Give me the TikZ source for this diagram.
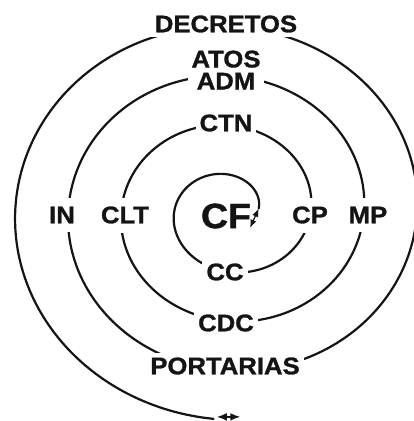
\documentclass[tikz,border=0pt]{standalone}
\usepackage{fontspec}
\usetikzlibrary{arrows.meta}
\newfontfamily\spirfont[FakeStretch=1.07,FakeBold=1.2]{Liberation Sans}
\definecolor{ink}{RGB}{20,20,20}

\begin{document}
\begin{tikzpicture}[x=1pt, y=-1pt, >=Latex]

% =====================================================================
% Spiral of the legal norms, drawn in pixel units (y pointing down).
% Centre near (229.4, 211); the two radii grow linearly with the angle:
%   x radius = 28.6 + 0.1473*t,   y radius = 24 + 0.137*t   (t in deg)
% The text nodes are filled white, so they cut the line where it passes.
% =====================================================================

\def\cx{229.4}
\def\cy{211}
\def\ax{28.6}
\def\bx{0.1473}
\def\ay{24}
\def\by{0.137}
\def\tStart{6}
\def\tEnd{1346}

\tikzset{
  spirline/.style={ink, line width=2.2pt, line cap=round},
  spirtext/.style={fill=white, inner xsep=4pt, inner ysep=9pt,
    text=ink, font=\spirfont\bfseries\fontsize{24}{22}\selectfont},
  spirarrow/.style={<->, ink, line width=1.2pt}
}

\clip (0,0) rectangle (414,421);

% Spiral (one continuous line, from the centre outwards)
\draw[spirline] plot[domain=\tStart:\tEnd, samples=400, smooth]
  ({\cx + (\ax + \bx*\x)*cos(\x)}, {\cy - (\ay + \by*\x)*sin(\x)});

% Both ends of the spiral
\pgfmathsetmacro{\ixs}{\cx + (\ax + \bx*\tStart)*cos(\tStart)}
\pgfmathsetmacro{\iys}{\cy - (\ay + \by*\tStart)*sin(\tStart)}
\pgfmathsetmacro{\oxs}{\cx + (\ax + \bx*\tEnd)*cos(\tEnd)}
\pgfmathsetmacro{\oys}{\cy - (\ay + \by*\tEnd)*sin(\tEnd)}
\coordinate (innerEnd) at (\ixs, \iys);
\coordinate (innerTip) at (250, 228);
\coordinate (outerEnd) at ([xshift=3pt, yshift=2pt] \oxs, \oys);
\coordinate (outerTip) at ([xshift=27pt, yshift=2pt] \oxs, \oys);

\draw[spirarrow] (innerEnd) -- (innerTip);
\draw[spirarrow, line width=1.6pt] (outerEnd) -- (outerTip);

% ===== Labels along the spiral =====
\node[spirtext, font=\spirfont\bfseries\fontsize{35}{35}\selectfont,
      fill=none] (cf) at (226, 216) {CF};
\node[spirtext] (cc)   at (225, 272) {CC};
\node[spirtext] (cp)   at (310, 215) {CP};
\node[spirtext, inner ysep=5pt] (ctn)  at (226, 123) {CTN};
\node[spirtext] (clt)  at (125, 215) {CLT};
\node[spirtext] (cdc)  at (226, 323) {CDC};
\node[spirtext] (mp)   at (368, 215) {MP};
\node[spirtext, align=center, inner ysep=4pt] (atos) at (226, 70)
  {ATOS\\ADM};
\node[spirtext] (in)   at (62, 215) {IN};
\node[spirtext, inner ysep=5pt] (port) at (225, 366) {PORTARIAS};
\node[spirtext, inner ysep=5pt] (decr) at (226, 24) {DECRETOS};

\end{tikzpicture}
\end{document}
